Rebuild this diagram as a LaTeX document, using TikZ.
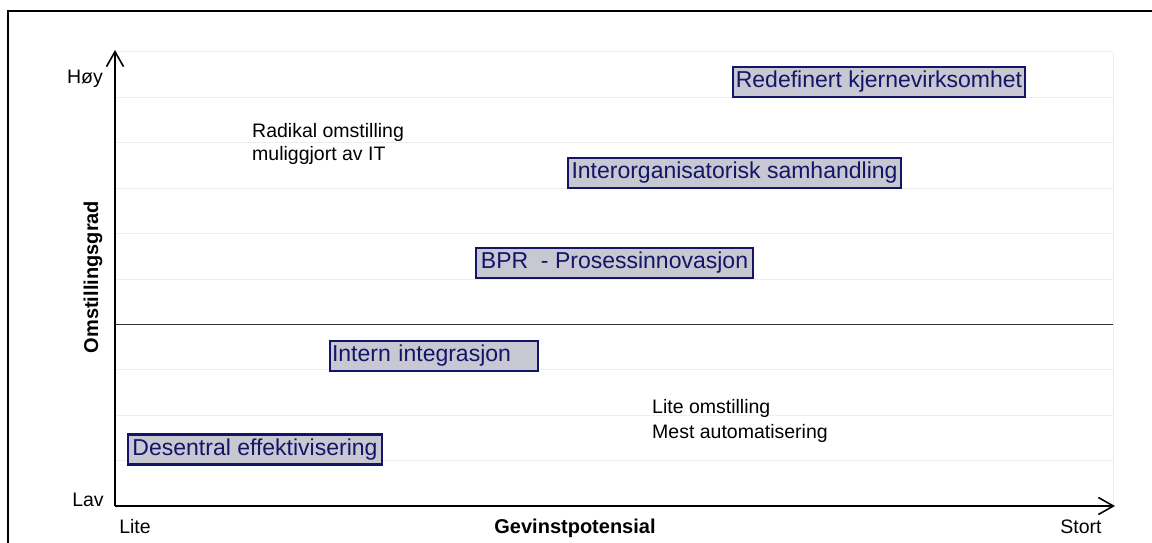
\documentclass[tikz,border=0pt]{standalone}
\usepackage{fontspec}
\setmainfont{Liberation Sans}
\usetikzlibrary{arrows.meta}
\definecolor{navy}{RGB}{20,20,104}
\definecolor{boxgray}{RGB}{200,200,210}
\definecolor{gridgray}{RGB}{238,238,238}
\tikzset{
  lbox/.style={draw=navy, fill=boxgray, line width=2.3pt, text=navy, inner sep=2pt,
    minimum height=30pt, font=\fontsize{23}{26}\selectfont},
  plain/.style={inner sep=0pt, font=\fontsize{19.5}{23}\selectfont},
  axtitle/.style={inner sep=0pt, font=\bfseries\fontsize{20}{24}\selectfont},
  axarrow/.style={line width=1.8pt, -{Straight Barb[length=15pt,width=17pt,line width=1.6pt]}},
  gridline/.style={draw=gridgray, line width=1pt}
}
\begin{document}
\begin{tikzpicture}[x=1pt,y=-1pt]
\useasboundingbox (0,0) rectangle (1152,543);
% outer frame (cropped)
\draw[line width=2.8pt] (8,560) -- (8,11) -- (1170,11);
% grid
\foreach \k in {0,1,2,3,4,5,7,8,9}{
  \draw[gridline] (115,{52+45.4*\k}) -- (1113,{52+45.4*\k});
}
\draw[gridline] (1113,52) -- (1113,506);
\draw[line width=1.3pt, draw=black!80] (115,324.4) -- (1113,324.4);
% axes
\coordinate (O) at (115,506);
\coordinate (ytip) at (115,50);
\coordinate (xtip) at (1115,506);
\draw[axarrow] (O) -- (ytip);
\draw[axarrow] (O) -- (xtip);
% axis labels
\node[plain] (hoy) at (85,79) {Høy};
\node[plain] (lav) at (88,500) {Lav};
\node[plain] (lite) at (135,527) {Lite};
\node[plain] (stort) at (1081,527) {Stort};
\node[axtitle] (gev) at (575,528) {Gevinstpotensial};
\node[axtitle, rotate=90] (oms) at (93,277) {Omstillingsgrad};
% boxes
\node[lbox, minimum width=292pt] (redef) at (879,82) {Redefinert kjernevirksomhet};
\node[lbox, minimum width=333pt] (inter) at (734.5,173) {Interorganisatorisk samhandling};
\node[lbox, minimum width=277pt] (bpr) at (614.5,263) {BPR\ \ - Prosessinnovasjon};
\node[lbox, text width=204pt, align=left] (intern) at (434,356) {Intern integrasjon};
\node[lbox, minimum width=254pt] (desentral) at (255,449.5) {Desentral effektivisering};
% free texts
\node[plain, anchor=west, align=left] (radikal) at (252,143.5) {Radikal omstilling\\muliggjort av IT};
\node[plain, anchor=west, align=left, font=\fontsize{19.5}{25}\selectfont] (liteoms) at (652,420.5) {Lite omstilling\\Mest automatisering};
\end{tikzpicture}
\end{document}
